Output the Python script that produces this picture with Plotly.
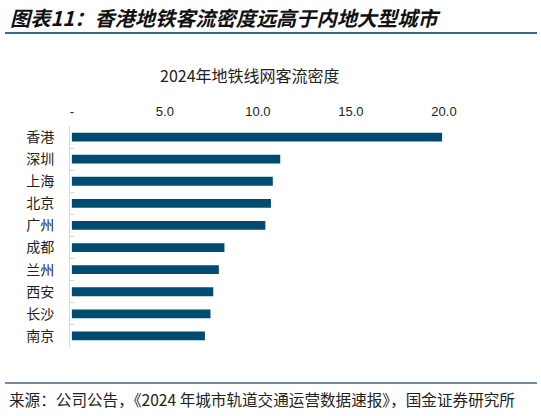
import plotly.graph_objects as go

cities = ["香港", "深圳", "上海", "北京", "广州", "成都", "兰州", "西安", "长沙", "南京"]
density = [19.9, 11.2, 10.8, 10.7, 10.4, 8.2, 7.9, 7.6, 7.45, 7.15]
tick_vals = [0, 5, 10, 15, 20]
tick_text = ["-", "5.0", "10.0", "15.0", "20.0"]

W, H = 541, 416
L, R, T, B = 70, 4, 126, 69
pw, ph = W - L - R, H - T - B
xmin, xmax = -0.1, 25

def px(x):
    return (x - L) / pw

def py(y):
    return 1 - (y - T) / ph

fig = go.Figure(go.Bar(
    x=density, y=cities, orientation="h", base=0,
    marker=dict(color="#004B70", line=dict(width=0)),
    hoverinfo="x+y",
))

fig.update_layout(
    width=W, height=H,
    margin=dict(l=L, r=R, t=T, b=B, autoexpand=False),
    paper_bgcolor="white", plot_bgcolor="white",
    bargap=0.6,
    showlegend=False,
    font=dict(family="Noto Sans CJK SC", color="#222222"),
    xaxis=dict(
        side="top", range=[xmin, xmax], tickvals=tick_vals, ticktext=tick_text,
        showgrid=False, zeroline=False, showline=False, ticks="",
        tickfont=dict(family="Liberation Sans", size=13, color="#222222"),
        ticklabelstandoff=6, automargin=False,
    ),
    yaxis=dict(
        autorange="reversed", showgrid=False, zeroline=False,
        showline=True, linecolor="#D9D9D9", linewidth=1,
        ticks="inside", tickson="boundaries", ticklen=4, tickcolor="#D9D9D9",
        tickfont=dict(family="Noto Sans CJK SC", size=14, color="#222222"),
        ticklabelstandoff=12, automargin=False,
    ),
    annotations=[
        dict(text="<b><i>图表11：香港地铁客流密度远高于内地大型城市</i></b>",
             xref="paper", yref="paper", x=px(8), y=py(18), xanchor="left", yanchor="middle",
             showarrow=False, font=dict(size=20.2, color="#111111", family="Noto Sans CJK SC")),
        dict(text="2024年地铁线网客流密度",
             xref="paper", yref="paper", x=px(250), y=py(75), xanchor="center", yanchor="middle",
             showarrow=False, font=dict(size=16, color="#222222", family="Noto Sans CJK SC")),
        dict(text="来源：公司公告，《2024 年城市轨道交通运营数据速报》，国金证券研究所",
             xref="paper", yref="paper", x=px(7), y=py(399), xanchor="left", yanchor="middle",
             showarrow=False, font=dict(size=15.6, color="#222222", family="Noto Sans CJK SC")),
    ],
    shapes=[
        dict(type="line", xref="paper", yref="paper", x0=px(5), x1=px(537), y0=py(33), y1=py(33),
             line=dict(color="#3A6887", width=2)),
        dict(type="line", xref="paper", yref="paper", x0=px(5), x1=px(537), y0=py(383), y1=py(383),
             line=dict(color="#3A6887", width=1.5)),
    ],
)

fig.write_html("out.html", config={"displayModeBar": False},
               post_script="document.body.style.margin='0';document.body.style.overflow='hidden';")
